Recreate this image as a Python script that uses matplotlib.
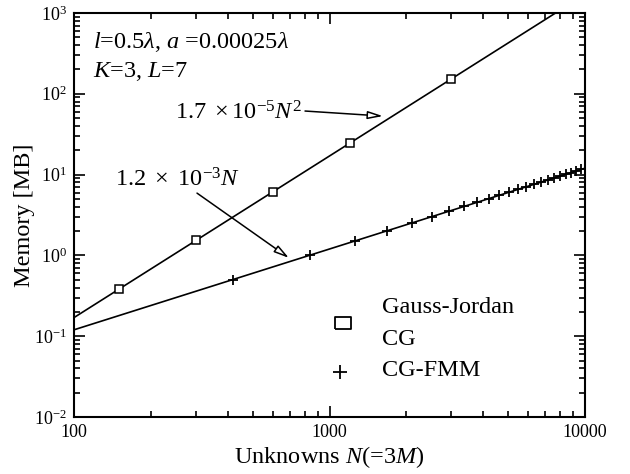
import matplotlib
matplotlib.use("Agg")
import matplotlib.pyplot as plt
import numpy as np
from matplotlib.ticker import FixedLocator, FixedFormatter, LogLocator, NullFormatter

plt.rcParams["font.family"] = ["Liberation Serif", "DejaVu Serif"]
plt.rcParams["mathtext.fontset"] = "custom"
plt.rcParams["mathtext.rm"] = "Liberation Serif"
plt.rcParams["mathtext.it"] = "Liberation Serif:italic"
plt.rcParams["axes.unicode_minus"] = False

# Gauss-Jordan / CG memory (MB)
n_gj = [150, 300, 600, 1200, 3000]
mem_gj = [0.38, 1.53, 6.12, 24.5, 153.0]

# CG-FMM memory (MB)
n_fmm = [420, 840, 1260, 1680, 2100, 2520, 2940, 3360, 3780, 4200, 4620, 5040,
         5460, 5880, 6300, 6720, 7140, 7560, 7980, 8400, 8820, 9240, 9660]
mem_fmm = [0.50, 1.01, 1.51, 2.02, 2.52, 3.02, 3.53, 4.03, 4.54, 5.04, 5.54, 6.05,
           6.55, 7.06, 7.56, 8.06, 8.57, 9.07, 9.58, 10.08, 10.58, 11.09, 11.59]

# fitted slopes
coef_n2 = 1.7e-5
coef_n1 = 1.2e-3

x_ticks = [100, 1000, 10000]
x_labels = ["100", "1000", "10000"]

FS = 17.5

fig = plt.figure(figsize=(6.3, 4.74), dpi=100)
ax = fig.add_axes([74 / 630, 57 / 474, 511 / 630, 404 / 474])

nn = np.logspace(2, 4, 200)
ax.plot(nn, coef_n2 * nn**2, "k-", lw=1.2)
ax.plot(nn, coef_n1 * nn, "k-", lw=1.2)
ax.plot(n_gj, mem_gj, "s", ms=5.3, mfc="white", mec="k", mew=1.1)
ax.plot(n_fmm, mem_fmm, "+", ms=6.5, mec="k", mew=1.3)

ax.set_xscale("log")
ax.set_yscale("log")
ax.set_xlim(100, 10000)
ax.set_ylim(1e-2, 1e3)

ax.xaxis.set_major_locator(FixedLocator(x_ticks))
ax.xaxis.set_major_formatter(FixedFormatter(x_labels))
ax.xaxis.set_minor_locator(LogLocator(base=10, subs=np.arange(2, 10)))
ax.xaxis.set_minor_formatter(NullFormatter())
ax.yaxis.set_minor_locator(LogLocator(base=10, subs=np.arange(2, 10)))
ax.yaxis.set_minor_formatter(NullFormatter())

ax.tick_params(which="both", direction="in", top=True, right=True, width=1.2,
               labelsize=13, pad=5)
ax.tick_params(which="major", length=8)
ax.tick_params(which="minor", length=4)
for s in ax.spines.values():
    s.set_linewidth(1.5)

ax.set_xlabel("Unknowns $N$(=3$M$)", fontsize=FS)
ax.xaxis.set_label_coords(0.5, -0.068)
ax.set_ylabel("Memory [MB]", fontsize=FS)
ax.yaxis.set_label_coords(-0.076, 0.5)

ax.text(0.037, 0.927, r"$l$=0.5$\lambda$, $a$ =0.00025$\lambda$",
        transform=ax.transAxes, fontsize=FS, va="center")
ax.text(0.037, 0.855, "$K$=3, $L$=7", transform=ax.transAxes,
        fontsize=FS, va="center")

arrow = dict(arrowstyle="-|>,head_length=0.65,head_width=0.17", color="k",
             lw=1.1, mutation_scale=14, shrinkA=0, shrinkB=0, fc="white")
ax.text(780, 57.8, r"$1.7\ \times 10^{-5}N^2$", ha="right", va="center",
        fontsize=FS)
ax.annotate("", xy=(1618, 53), xytext=(802, 61.2), arrowprops=arrow)
ax.text(255, 8.57, r"$1.2\ \times\ 10^{-3}N$", ha="center", va="center",
        fontsize=FS)
ax.annotate("", xy=(694, 0.93), xytext=(303, 5.9), arrowprops=arrow)

# legend
rect = [(-1.36, -1), (1.36, -1), (1.36, 1), (-1.36, 1), (-1.36, -1)]
ax.plot([0.526], [0.233], marker=rect, ms=10.8, mfc="white", mec="k", mew=1.3,
        ls="none", transform=ax.transAxes, clip_on=False)
ax.plot([0.521], [0.111], "+", ms=10.6, mec="k", mew=1.3,
        transform=ax.transAxes, clip_on=False)
for y, s in [(0.270, "Gauss-Jordan"), (0.191, "CG"), (0.116, "CG-FMM")]:
    ax.text(0.603, y, s, transform=ax.transAxes, fontsize=FS, va="center")

fig.savefig("out.png", dpi=100)
